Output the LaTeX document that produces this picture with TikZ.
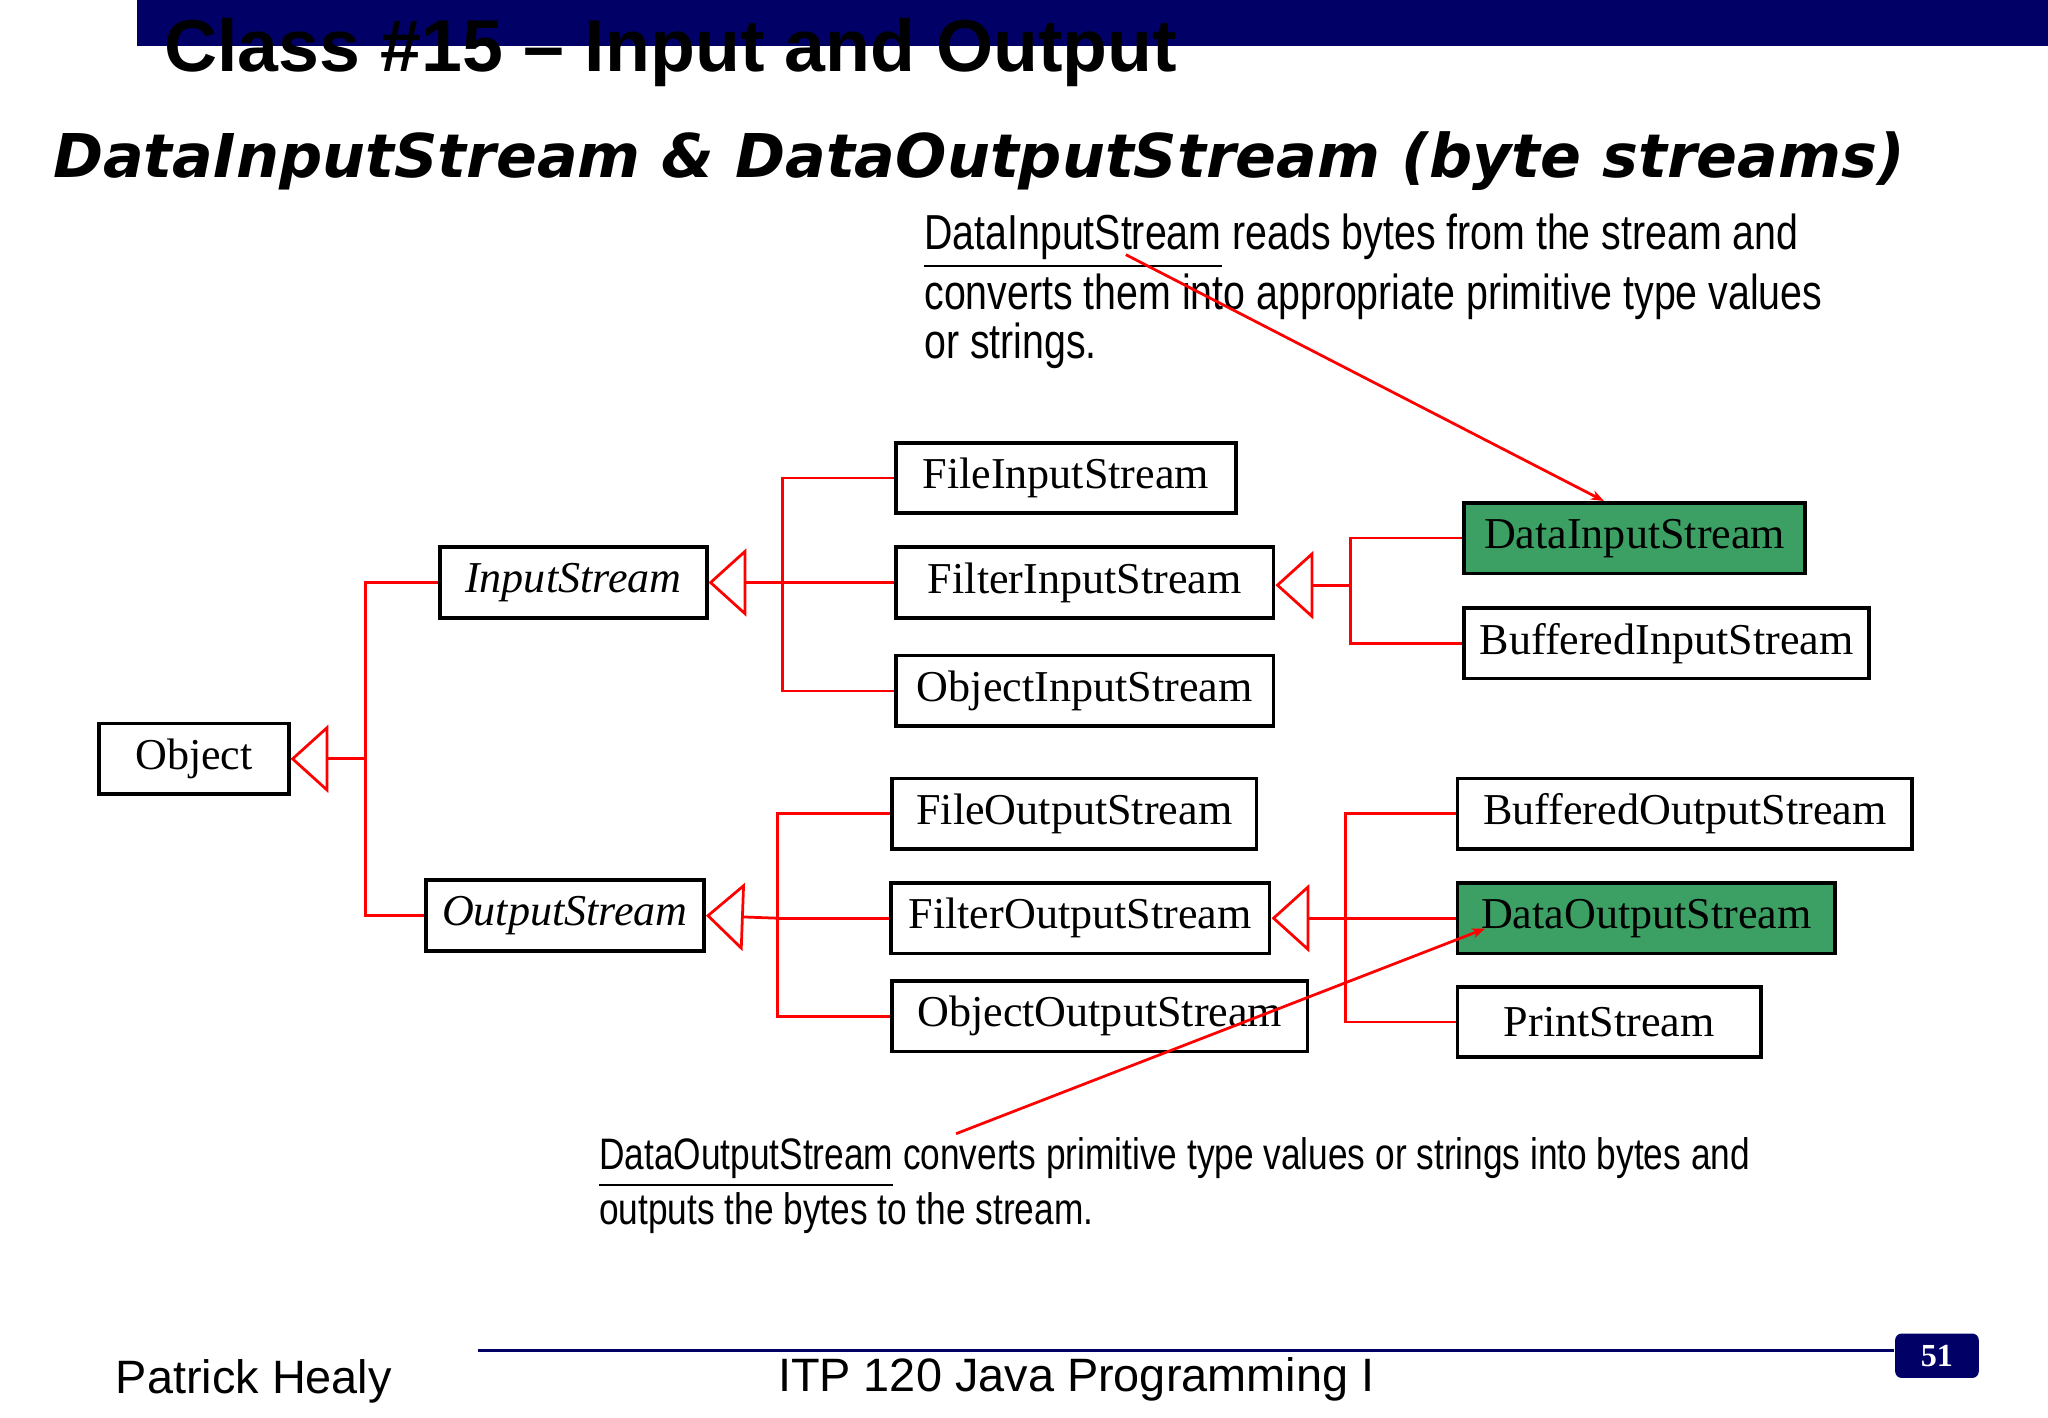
\documentclass[tikz,border=0pt]{standalone}
\usepackage{fontspec}
\setmainfont{Liberation Serif}
\setsansfont{Liberation Sans}
\newfontfamily\narrowfont{Liberation Sans}[FakeStretch=0.80]
\newfontfamily\verdfont{DejaVu Sans}
\usetikzlibrary{arrows.meta}
\definecolor{navy}{RGB}{0,0,102}
\definecolor{boxgreen}{RGB}{60,160,100}
\tikzset{
  box/.style={draw=black,line width=0.8pt,minimum height=0.54cm,inner sep=0pt,font=\fontsize{9.6}{10}\selectfont},
  green box/.style={box,fill=boxgreen},
  link/.style={draw=red,line width=0.6pt},
  inherit/.style={link,-{Triangle[open,length=0.29cm,width=0.52cm,line width=0.6pt]}},
  note/.style={anchor=north west,inner sep=0pt,align=left,font=\narrowfont\fontsize{10.7}{10.8}\selectfont}
}
\begin{document}
\begin{tikzpicture}[x=0.01cm,y=-0.01cm]
  \useasboundingbox (0,0) rectangle (1568,1085);
  % header and title
  \fill[navy] (105,0) rectangle (1568,35);
  \node[anchor=west,inner sep=0pt,font=\sffamily\bfseries\fontsize{16}{16}\selectfont] (class) at (125,40) {Class \#15 -- Input and Output};
  \node[anchor=west,inner sep=0pt] (title) at (40,123) {\resizebox{14.17cm}{!}{\verdfont\bfseries\itshape DataInputStream \& DataOutputStream (byte streams)}};
  % notes
  \node[note] (innote) at (707,163) {\underline{DataInputStream} reads bytes from the stream and\\converts them into appropriate primitive type values\\or strings.};
  \node[note,font=\narrowfont\fontsize{9.6}{10.8}\selectfont] (outnote) at (458,870) {\underline{DataOutputStream} converts primitive type values or strings into bytes and\\outputs the bytes to the stream.};
  % classes
  \node[box,minimum width=1.45cm] (obj) at (148.5,581) {Object};
  \node[box,minimum width=2.04cm] (is) at (439,446) {\itshape InputStream};
  \node[box,minimum width=2.13cm] (os) at (432.5,701) {\itshape OutputStream};
  \node[box,minimum width=2.60cm] (fis) at (816,366) {FileInputStream};
  \node[box,minimum width=2.89cm] (flis) at (830.5,446) {FilterInputStream};
  \node[box,minimum width=2.89cm] (ois) at (830.5,529) {ObjectInputStream};
  \node[box,minimum width=2.79cm] (fos) at (822.5,623) {FileOutputStream};
  \node[box,minimum width=2.90cm] (flos) at (827,703) {FilterOutputStream};
  \node[box,minimum width=3.18cm] (oos) at (842,778) {ObjectOutputStream};
  \node[green box,minimum width=2.61cm] (dis) at (1251.5,412) {DataInputStream};
  \node[box,minimum width=3.10cm] (bis) at (1276,492.5) {BufferedInputStream};
  \node[box,minimum width=3.48cm] (bos) at (1290,623) {BufferedOutputStream};
  \node[green box,minimum width=2.89cm] (dos) at (1260.5,703) {DataOutputStream};
  \node[box,minimum width=2.32cm] (ps) at (1232,782.5) {PrintStream};
  % junction points
  \coordinate (j0) at (280,581);
  \coordinate (j1) at (599,446);
  \coordinate (j2) at (595,703);
  \coordinate (j3) at (1034,448);
  \coordinate (j4) at (1030,703);
  % inheritance links
  \draw[inherit] (j0) -- (obj.east);
  \draw[link] (is.west) -- (is.west -| j0) -- (os.west -| j0) -- (os.west);
  \draw[inherit] (j1) -- (is.east);
  \draw[link] (fis.west) -- (fis.west -| j1) -- (ois.west -| j1) -- (ois.west);
  \draw[link] (j1) -- (flis.west);
  \draw[inherit] (j2) -- (os.east);
  \draw[link] (fos.west) -- (fos.west -| j2) -- (oos.west -| j2) -- (oos.west);
  \draw[link] (j2) -- (flos.west);
  \draw[inherit] (j3) -- (flis.east |- j3);
  \draw[link] (dis.west) -- (dis.west -| j3) -- (bis.west -| j3) -- (bis.west);
  \draw[inherit] (j4) -- (flos.east);
  \draw[link] (bos.west) -- (bos.west -| j4) -- (ps.west -| j4) -- (ps.west);
  \draw[link] (j4) -- (dos.west);
  % annotation arrows
  \coordinate (inmark) at (862,195);
  \coordinate (outmark) at (732,868);
  \draw[link,-{Stealth[length=0.1cm]}] (inmark) -- (dis.north west -| 1228,0);
  \draw[link,-{Stealth[length=0.1cm]}] (outmark) -- (1137,711);
  % footer
  \draw[navy,line width=0.6pt] (366,1034) -- (1450,1034);
  \node[anchor=west,inner sep=0pt,font=\sffamily\fontsize{10.2}{11}\selectfont] (author) at (88,1058) {Patrick Healy};
  \node[anchor=west,inner sep=0pt,font=\sffamily\fontsize{10.2}{11}\selectfont] (course) at (595,1056) {ITP 120 Java Programming I};
  \node[fill=navy,rounded corners=0.05cm,minimum width=0.64cm,minimum height=0.34cm,inner sep=0pt,text=white,font=\bfseries\fontsize{7}{8}\selectfont] (page) at (1483,1038) {51};
\end{tikzpicture}
\end{document}
